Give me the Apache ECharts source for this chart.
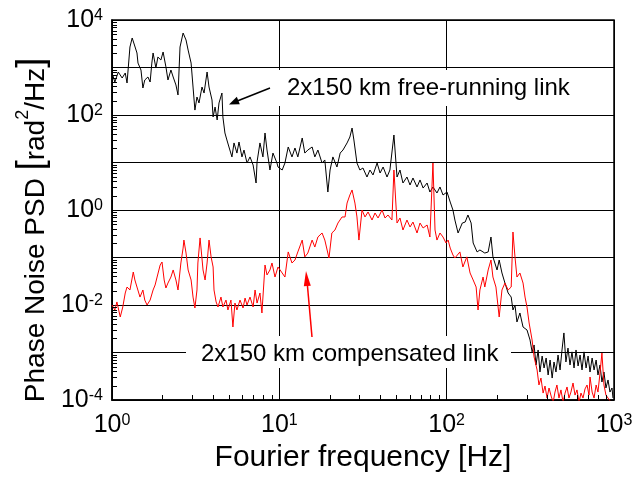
<!DOCTYPE html>
<html>
<head>
<meta charset="utf-8">
<script src="https://cdn.jsdelivr.net/npm/echarts@6/dist/echarts.min.js"></script>
<style>
html, body { margin: 0; padding: 0; background: #fff; }
#chart { width: 636px; height: 481px; }
</style>
</head>
<body>
<div id="chart"></div>
<script>
// free-running link (black)
var blackFreq = [1.01,1.04,1.09,1.15,1.20,1.23,1.28,1.32,1.35,1.41,
    1.43,1.49,1.53,1.57,1.64,1.69,1.73,1.76,1.83,1.88,
    1.96,2.02,2.10,2.16,2.25,2.32,2.41,2.48,2.55,2.66,
    2.69,2.77,2.85,2.97,3.05,3.13,3.22,3.31,3.45,3.55,
    3.70,3.80,3.96,4.02,4.13,4.25,4.36,4.54,4.60,4.73,
    4.86,5.00,5.21,5.36,5.58,5.74,5.98,6.15,6.41,6.68,
    6.97,7.26,7.36,7.66,7.98,8.21,8.44,8.79,9.16,9.68,
    9.82,10.4,10.8,11.3,11.9,12.4,12.9,13.7,14.2,14.8,
    15.7,16.3,17.0,18.0,18.7,19.5,20.1,20.9,22.1,23.1,
    24.0,25.4,26.4,27.2,27.9,29.1,30.3,31.6,33.4,34.8,
    36.3,38.4,40.0,41.7,44.0,45.8,48.4,50.5,52.6,54.8,
    57.9,60.4,62.9,66.5,69.3,72.3,76.4,79.4,82.8,87.5,
    91.2,95.1,100.5,105,109,112,117,124,129,134,
    140,144,152,158,169,177,184,189,200,206,
    214,223,233,243,249,256,263,274,286,302,
    315,324,333,342,352,361,372,382,393,404,
    415,427,438,450,463,476,489,502,516,531,
    546,561,577,593,610,627,644,662,681,700,
    719,740,760,782,802,825,847,871,895,921,
    946,973,986];
var blackPsd = [695,495,804,601,766,472,2700,4180,3280,2020,
    1240,885,370,546,631,495,1240,2020,975,1660,
    1440,2120,1030,546,885,631,429,264,2700,5320,
    5580,3790,2330,1240,388,127,239,179,388,290,
    804,388,207,90.8,147,78.5,179,290,90.8,41.8,
    29.8,21.2,13.1,25.8,15.8,27.0,13.1,18.3,9.75,13.1,
    8.85,3.70,10.3,25.8,13.1,41.8,18.3,6.95,15.8,9.75,
    8.04,6.95,9.75,21.2,13.1,20.2,13.1,32.8,15.8,18.3,
    21.2,13.1,18.3,9.75,11.3,2.39,6.95,13.1,8.04,15.8,
    18.3,25.8,34.4,53.2,29.8,9.75,6.95,7.66,4.95,6.95,
    5.46,9.75,6.01,8.04,4.95,6.95,37.9,4.95,6.95,3.70,
    4.95,3.36,4.72,3.05,4.29,2.90,3.70,2.39,3.05,2.28,
    3.05,2.07,2.39,1.47,1.00,0.615,0.328,0.532,0.558,0.785,
    0.532,0.202,0.131,0.144,0.124,0.131,0.270,0.103,0.0546,0.0885,
    0.0472,0.0290,0.0179,0.0147,0.00785,0.0100,0.00439,0.00679,0.00344,0.00298,
    0.00183,0.00103,0.00144,0.000546,0.00113,0.000388,0.000843,0.000472,0.000766,0.000336,
    0.000695,0.000290,0.000631,0.000388,0.000885,0.000429,0.00113,0.00258,0.000631,0.00124,
    0.000546,0.00103,0.000472,0.00113,0.000520,0.000885,0.000429,0.00103,0.000472,0.000843,
    0.000388,0.000766,0.000429,0.000695,0.000336,0.000546,0.000239,0.000388,0.000179,0.000264,
    0.000147,0.000179,0.000110];

// compensated link (red)
var redFreq = [1.00,1.04,1.07,1.12,1.16,1.20,1.23,1.28,1.34,1.37,
    1.41,1.47,1.53,1.57,1.62,1.69,1.76,1.81,1.86,1.94,
    1.99,2.05,2.10,2.16,2.25,2.32,2.41,2.48,2.58,2.66,
    2.69,2.77,2.85,2.97,3.05,3.13,3.22,3.26,3.36,3.50,
    3.60,3.70,3.80,3.91,4.02,4.07,4.19,4.30,4.48,4.60,
    4.80,4.93,5.14,5.28,5.43,5.58,5.82,6.07,6.24,6.41,
    6.68,6.97,7.16,7.36,7.66,7.87,8.21,8.44,8.79,9.04,
    9.42,9.82,10.4,10.8,11.3,11.9,12.4,12.9,13.7,14.2,
    14.8,15.7,16.3,17.0,18.0,18.7,19.8,20.6,21.5,22.4,
    23.7,24.7,25.4,26.4,27.2,28.3,29.1,29.9,31.2,32.5,
    33.9,35.8,37.3,38.9,41.1,42.8,44.6,47.1,48.4,50.5,
    52.6,54.8,57.9,60.4,62.9,66.5,69.3,72.3,76.4,79.4,
    82.8,85.2,87.5,91.2,95.1,99.1,102,105,109,112,
    115,120,125,132,138,144,150,154,158,165,
    169,177,184,189,197,206,214,223,233,243,
    249,256,263,274,286,294,302,311,324,333,
    347,356,366,377,387,398,409,421,433,444,
    456,469,482,496,510,524,538,553,569,585,
    601,618,635,653,671,690,709,719,740,760,
    782,802,825,847,871,895,921,959];
var redPsd = [0.0100,0.00785,0.0116,0.00559,0.00908,0.0179,0.0239,0.0207,0.0495,0.0336,
    0.0239,0.0147,0.0207,0.0127,0.0100,0.0127,0.0207,0.0264,0.0388,0.0695,
    0.0804,0.0336,0.0228,0.0290,0.0388,0.0546,0.0336,0.0207,0.0766,0.158,
    0.233,0.124,0.0546,0.0336,0.0147,0.00865,0.0207,0.0766,0.258,0.0546,
    0.0336,0.0766,0.233,0.103,0.0631,0.0207,0.0116,0.00908,0.0147,0.00908,
    0.0127,0.00785,0.0127,0.00344,0.0110,0.00785,0.0127,0.00865,0.0140,0.0100,
    0.0147,0.00908,0.0207,0.0110,0.0179,0.00679,0.0695,0.0429,0.0546,0.0766,
    0.0388,0.0631,0.0472,0.0388,0.131,0.0766,0.0885,0.131,0.233,0.103,
    0.124,0.233,0.166,0.270,0.328,0.233,0.0975,0.328,0.379,0.532,
    0.713,0.713,1.40,2.07,2.64,1.40,0.713,0.233,1.00,0.713,
    0.908,0.615,0.865,0.679,1.00,0.679,0.785,0.615,6.95,0.532,
    0.679,0.379,0.615,0.439,0.558,0.328,0.532,0.418,0.483,0.270,
    9.75,0.379,0.233,0.328,0.270,0.202,0.233,0.158,0.113,0.0975,
    0.0885,0.131,0.0631,0.103,0.0472,0.0336,0.0239,0.00785,0.0207,0.0388,
    0.0239,0.0546,0.0885,0.0388,0.0239,0.00559,0.0207,0.0290,0.0207,0.0239,
    0.344,0.103,0.0388,0.0472,0.0290,0.0147,0.00908,0.00418,0.00183,0.000804,
    0.000429,0.000207,0.000290,0.000140,0.000197,0.000110,0.000179,0.000121,0.0000900,0.000147,
    0.000207,0.000110,0.000163,0.0000900,0.000140,0.000188,0.000110,0.000147,0.000228,0.000127,
    0.000163,0.0000900,0.000140,0.000110,0.000171,0.000207,0.000127,0.000305,0.000147,0.000110,
    0.000207,0.000147,0.000370,0.000975,0.000207,0.000127,0.000110,0.0000900];

// decades that get inner minor ticks at 2..9
var xDecades = [1, 10, 100];
var yDecades = [1e-4, 1e-3, 1e-2, 1e-1, 1, 10, 100, 1000];

var font = 'Liberation Sans, Arial, sans-serif';

function pairs(xs, ys) {
    var out = [];
    for (var i = 0; i < xs.length; i++) out.push([xs[i], ys[i]]);
    return out;
}

function powLabel(v, evenOnly) {
    var e = Math.round(Math.log(v) / Math.LN10);
    if (evenOnly && e % 2 !== 0) return '';
    return '{b|10}{s|' + e + '}';
}

var labelRich = {
    b: { fontSize: 25, fontFamily: font, color: '#000', verticalAlign: 'bottom' },
    s: { fontSize: 16, fontFamily: font, color: '#000', verticalAlign: 'top' }
};

var annotations = [
    {
        type: 'text', rotation: Math.PI / 2, x: 32, y: 230, z: 100,
        style: {
            text: '{t|Phase Noise PSD }{k|[}{t|rad}{p|2}{t|/Hz}{k|]}',
            align: 'center', verticalAlign: 'middle',
            rich: {
                t: { fontSize: 28, fontFamily: font, fill: '#000', verticalAlign: 'bottom' },
                p: { fontSize: 18, fontFamily: font, fill: '#000', verticalAlign: 'top' },
                k: { fontSize: 36, fontFamily: font, fill: '#000', verticalAlign: 'bottom' }
            }
        }
    },
    {
        type: 'rect', z: 100,
        shape: { x: 275, y: 70, width: 300, height: 36 },
        style: { fill: '#fff' }
    },
    {
        type: 'text', x: 287, y: 88, z: 101,
        style: {
            text: '2x150 km free-running link', fontSize: 24, fontFamily: font,
            fill: '#000', verticalAlign: 'middle'
        }
    },
    {
        type: 'line', z: 101,
        shape: { x1: 270, y1: 88, x2: 236, y2: 101.5 },
        style: { stroke: '#000', lineWidth: 1.5 }
    },
    {
        type: 'polygon', z: 101,
        shape: { points: [[229, 104.5], [239.8, 104.2], [236.8, 96.8]] },
        style: { fill: '#000' }
    },
    {
        type: 'rect', z: 100,
        shape: { x: 186, y: 336, width: 325, height: 32 },
        style: { fill: '#fff' }
    },
    {
        type: 'text', x: 201, y: 354, z: 101,
        style: {
            text: '2x150 km compensated link', fontSize: 24, fontFamily: font,
            fill: '#000', verticalAlign: 'middle'
        }
    },
    {
        type: 'line', z: 101,
        shape: { x1: 312, y1: 337, x2: 307.3, y2: 284 },
        style: { stroke: '#ff0000', lineWidth: 1.5 }
    },
    {
        type: 'polygon', z: 101,
        shape: { points: [[306, 271], [310.8, 285.7], [303.8, 286.3]] },
        style: { fill: '#ff0000' }
    }
];

var chart = echarts.init(document.getElementById('chart'));

var option = {
    animation: false,
    backgroundColor: '#fff',
    grid: {
        left: 112, right: 22, top: 20, bottom: 81,
        show: true, borderColor: '#000', borderWidth: 1.5
    },
    xAxis: {
        type: 'log', logBase: 10, min: 1, max: 1000, interval: 1,
        name: 'Fourier frequency [Hz]',
        nameLocation: 'middle', nameGap: 40,
        nameTextStyle: { fontSize: 30, fontFamily: font, color: '#000' },
        axisLine: { lineStyle: { color: '#000', width: 1.5 } },
        axisTick: { inside: true, length: 7, lineStyle: { color: '#000' } },
        axisLabel: {
            margin: 13,
            formatter: function (v) { return powLabel(v, false); },
            rich: labelRich
        },
        splitLine: { show: true, lineStyle: { color: '#000', width: 1 } }
    },
    yAxis: {
        type: 'log', logBase: 10, min: 1e-4, max: 1e4, interval: 1,
        axisLine: { lineStyle: { color: '#000', width: 1.5 } },
        axisTick: { inside: true, length: 7, lineStyle: { color: '#000' } },
        axisLabel: {
            margin: 9,
            formatter: function (v) { return powLabel(v, true); },
            rich: labelRich
        },
        splitLine: { show: true, lineStyle: { color: '#000', width: 1 } }
    },
    series: [
        {
            name: 'free-running',
            type: 'line',
            data: pairs(blackFreq, blackPsd),
            showSymbol: false,
            lineStyle: { color: '#000', width: 1 },
            z: 3
        },
        {
            name: 'compensated',
            type: 'line',
            data: pairs(redFreq, redPsd),
            showSymbol: false,
            lineStyle: { color: '#ff0000', width: 1 },
            z: 4
        }
    ],
    graphic: annotations
};

chart.setOption(option);

// minor ticks, placed through the axes' own log scales
var ticks = [];
xDecades.forEach(function (d) {
    for (var m = 2; m <= 9; m++) {
        var p = chart.convertToPixel({ gridIndex: 0 }, [m * d, 1e-4]);
        var x = Math.round(p[0]) + 0.5;
        ticks.push({
            type: 'line', z: 50, silent: true,
            shape: { x1: x, y1: p[1], x2: x, y2: p[1] - 5 },
            style: { stroke: '#000', lineWidth: 1 }
        });
    }
});
yDecades.forEach(function (d) {
    for (var m = 2; m <= 9; m++) {
        var p = chart.convertToPixel({ gridIndex: 0 }, [1, m * d]);
        var y = Math.round(p[1]) + 0.5;
        ticks.push({
            type: 'line', z: 50, silent: true,
            shape: { x1: p[0], y1: y, x2: p[0] + 5, y2: y },
            style: { stroke: '#000', lineWidth: 1 }
        });
    }
});
chart.setOption({ graphic: annotations.concat(ticks) });
</script>
</body>
</html>
